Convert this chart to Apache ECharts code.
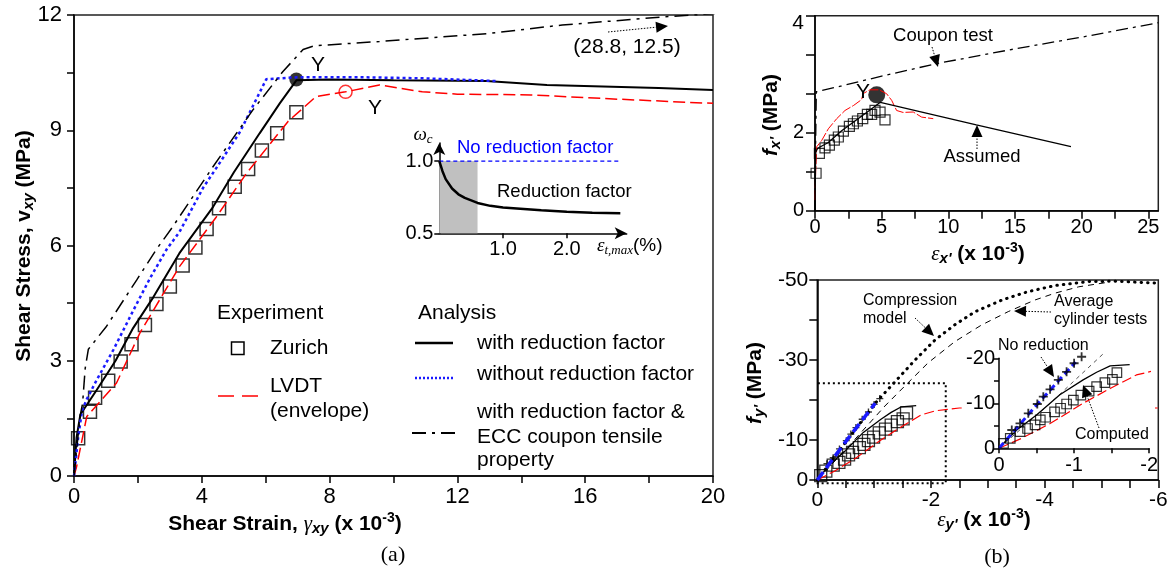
<!DOCTYPE html>
<html>
<head>
<meta charset="utf-8">
<script src="https://cdn.jsdelivr.net/npm/echarts@6/dist/echarts.min.js"></script>
<style>
  html, body { margin: 0; background: #fff; }
  #chart { width: 1172px; height: 576px; }
</style>
</head>
<body>
<div id="chart"></div>
<script>
// ---- (a) shear stress vs shear strain ----
const zurichA = [[0.13,0.98],[0.5,1.67],[0.66,2.04],[1.07,2.48],[1.46,2.98],[1.8,3.43],[2.22,3.93],[2.58,4.48],[3.0,4.93],[3.4,5.48],[3.8,5.95],[4.15,6.43],[4.54,6.97],[5.03,7.53],[5.45,7.99],[5.88,8.47],[6.36,8.92],[6.96,9.47]];
const lvdtA = [[0,0],[0.08,0.24],[0.4,1.55],[1.33,2.42],[2.06,3.72],[3.3,5.45],[4.46,6.75],[5.4,7.88],[6.7,9.23],[7.58,9.88],[8.5,10.0],[9.56,10.18],[10.9,10.0],[12,9.94],[14.3,9.92],[17,9.81],[19.7,9.71],[20,9.7]];
const withRfA = [[0,0],[0.08,1.0],[0.2,1.6],[0.71,2.24],[1.3,3.0],[1.85,3.85],[2.48,4.65],[3.3,5.8],[4.35,7.0],[5.0,7.9],[5.81,8.92],[6.44,9.7],[6.96,10.3],[8,10.32],[10,10.3],[12.9,10.28],[14.8,10.18],[18.3,10.1],[20,10.05]];
const noRfA = [[0,0],[0.13,1.0],[0.25,1.7],[0.4,2.0],[0.71,2.5],[1.23,3.28],[1.85,4.3],[2.38,5.15],[2.9,5.9],[3.3,6.35],[4.04,7.5],[4.56,8.15],[5.19,8.95],[6.02,10.33],[7,10.38],[9,10.38],[11,10.35],[13.25,10.28]];
const couponA = [[0,0],[0.12,1.0],[0.2,1.6],[0.27,1.9],[0.35,2.8],[0.45,3.3],[1.02,3.9],[1.96,5.1],[2.58,5.9],[3.1,6.5],[4.35,8.05],[5.6,9.53],[6.54,10.53],[7.17,11.1],[7.53,11.2],[9.56,11.31],[13.0,11.52],[15.28,11.74],[18.6,11.96],[28.8,12.5]];
const yieldA = [[6.96,10.32]];
const yieldLvdtA = [[8.5,10.0]];

// (a) inset: reduction factor
const rfCurve = [[0,1.0],[0.05,0.93],[0.1,0.875],[0.2,0.81],[0.3,0.77],[0.4,0.745],[0.6,0.71],[0.8,0.69],[1.0,0.678],[1.27,0.67],[1.6,0.66],[2.0,0.65],[2.4,0.643],[2.84,0.638]];
const noRfLine = [[0,1.0],[2.84,1.0]];
const shadedRange = [0, 0.6];

// ---- (b) top: f_x' vs eps_x' ----
const couponB = [[0,0],[0.04,1.5],[0.1,3.05],[2,3.2],[5,3.45],[9.1,3.77],[15,4.15],[20,4.45],[25.75,4.82]];
const zurichB = [[0.08,0.96],[0.33,1.47],[0.75,1.61],[1.08,1.68],[1.45,1.81],[1.75,1.89],[2.13,2.04],[2.58,2.16],[2.88,2.23],[3.18,2.3],[3.58,2.36],[3.93,2.47],[4.25,2.47],[4.5,2.57],[4.88,2.53],[5.25,2.33]];
const lvdtB = [[0,0.27],[0.05,1.0],[0.13,1.64],[0.5,1.8],[1.0,2.1],[1.63,2.36],[2.25,2.57],[2.9,2.7],[3.5,2.85],[3.6,3.0],[4.12,3.1],[4.8,3.1],[5.37,3.0],[5.75,2.83],[6.12,2.57],[6.6,2.52],[7.37,2.53],[8.0,2.4],[8.87,2.36]];
const assumedB = [[0,0],[0.05,1.5],[0.2,1.6],[1,1.75],[2,2.05],[3,2.3],[4,2.55],[4.9,2.78],[12.1,2.2],[19.2,1.64]];
const yieldB = [[4.63,2.97]];

// ---- (b) bottom: f_y' vs eps_y' ----
const compModel = [[0,0],[-0.5,-9.5],[-1.05,-19.7],[-1.37,-24.6],[-1.72,-30],[-2.07,-35],[-2.42,-38.8],[-2.78,-42.1],[-3.25,-45],[-3.71,-47.1],[-4.18,-48.6],[-4.77,-49.6],[-5.24,-49.7],[-6,-49.2]];
const avgCyl = [[0,0],[-0.6,-9.2],[-1.19,-18.5],[-1.54,-23.5],[-1.95,-29.3],[-2.42,-34.6],[-2.89,-38.75],[-3.36,-42.1],[-3.83,-45],[-4.18,-46.7],[-4.6,-48.3],[-5.1,-49.4]];
const noRedB = [[0,0],[-0.5,-9.6],[-1.02,-19.2]];
const noRedMarks = [[-0.17,-4.07],[-0.28,-5.55],[-0.39,-7.78],[-0.51,-9.84],[-0.59,-11.47],[-0.68,-13.1],[-0.79,-15.2],[-0.9,-17.0],[-1.0,-18.9],[-1.1,-20.35]];
const computedB = [[0,0],[-0.1,-1.8],[-0.24,-4.1],[-0.5,-7.4],[-0.81,-11.9],[-1.12,-15.2],[-1.3,-16.9],[-1.48,-18.3],[-1.74,-18.6]];
const zurichC = [[-0.06,-1.1],[-0.15,-2.2],[-0.28,-3.7],[-0.38,-4.4],[-0.48,-5.2],[-0.55,-6.3],[-0.62,-6.9],[-0.74,-8.1],[-0.82,-8.9],[-0.9,-9.85],[-0.99,-10.7],[-1.09,-11.8],[-1.2,-12.7],[-1.3,-13.7],[-1.41,-14.6],[-1.51,-15.3],[-1.57,-16.8]];
const lvdtC = [[0,0],[-0.3,-2.2],[-0.68,-5.5],[-1.12,-10],[-1.48,-13.3],[-1.83,-16.3],[-2.08,-17.3],[-2.5,-18],[-6,-18]];
const elasticInset = [[0,0],[-0.7,-10.3],[-1.42,-21.5]];
const zoomBox = [[0.1,0.8],[-2.26,0.8],[-2.26,-24.2],[0.1,-24.2],[0.1,0.8]];

const FF = "'Liberation Sans', Arial, sans-serif";
const TF = "'Liberation Serif', 'Times New Roman', serif";

function line(grid, data, color, width, type, extra) {
    return Object.assign({
        type: 'line', xAxisIndex: grid, yAxisIndex: grid, data: data,
        symbol: 'none', silent: true, animation: false,
        lineStyle: { color: color, width: width, type: type }
    }, extra || {});
}
function squares(grid, data, size, bw, extra) {
    return Object.assign({
        type: 'scatter', xAxisIndex: grid, yAxisIndex: grid, data: data,
        symbol: 'rect', symbolSize: size, silent: true, animation: false,
        itemStyle: { color: 'rgba(0,0,0,0)', borderColor: '#000', borderWidth: bw }
    }, extra || {});
}
const plusPath = 'path://M4,0h2v10h-2zM0,4h10v2h-10z';

function xax(grid, o) {
    return Object.assign({
        gridIndex: grid, type: 'value',
        axisLine: { show: true, onZero: false, lineStyle: { color: '#000', width: 1.5 } },
        axisTick: { show: true, length: 7, lineStyle: { color: '#000', width: 1.5 } },
        splitLine: { show: false }
    }, o);
}
function lab(size, margin, values, fmt) {
    const l = { fontSize: size, color: '#000', fontFamily: FF, margin: margin, customValues: values };
    if (fmt) l.formatter = fmt;
    return l;
}
function tick(len, values) {
    const t = { show: true, length: len, lineStyle: { color: '#000', width: 1.5 } };
    if (values) t.customValues = values;
    return t;
}
const arrowLine = { show: true, onZero: false, symbol: ['none', 'arrow'], symbolSize: [9, 12], lineStyle: { color: '#000', width: 1.5 } };

// annotation helpers
function txt(x, y, text, size, o) {
    return {
        type: 'text', x: x, y: y, z: 30, rotation: (o && o.rot) || 0,
        style: Object.assign({ text: text, fontSize: size, fontFamily: FF, fill: '#000', align: 'left', verticalAlign: 'middle' }, (o && o.style) || {})
    };
}
function arrow(x1, y1, x2, y2) {
    const dx = x2 - x1, dy = y2 - y1, L = Math.hypot(dx, dy), ux = dx / L, uy = dy / L;
    const hl = 12, hw = 5.5;
    const bx = x2 - ux * hl, by = y2 - uy * hl;
    return [
        { type: 'line', z: 30, shape: { x1: x1, y1: y1, x2: bx, y2: by }, style: { stroke: '#000', lineWidth: 1, lineDash: [1.5, 1.5] } },
        { type: 'polygon', z: 30, shape: { points: [[x2, y2], [bx - uy * hw, by + ux * hw], [bx + uy * hw, by - ux * hw]] }, style: { fill: '#000' } }
    ];
}
const richAx = {
    b: { fontSize: 21, fontWeight: 'bold', fontFamily: FF },
    bi: { fontSize: 21, fontWeight: 'bold', fontStyle: 'italic', fontFamily: FF },
    gi: { fontSize: 21, fontStyle: 'italic', fontFamily: TF },
    sub: { fontSize: 15, fontWeight: 'bold', fontStyle: 'italic', fontFamily: FF, padding: [10, 0, 0, 0] },
    sup: { fontSize: 14, fontWeight: 'bold', fontFamily: FF, padding: [0, 0, 11, 0] }
};
const richIn = {
    i: { fontSize: 19, fontStyle: 'italic', fontFamily: TF },
    s: { fontSize: 13, fontStyle: 'italic', fontFamily: TF, padding: [9, 0, 0, 0] },
    n: { fontSize: 19, fontFamily: FF }
};

const graphics = [
    // inset (b) white background
    { type: 'rect', z: 10, shape: { x: 963, y: 348, width: 192, height: 130 }, style: { fill: '#fff' } },

    // axis titles
    txt(24, 246, "{b|Shear Stress, }{b|v}{sub|xy}{b| (MPa)}", 21, { rot: Math.PI / 2, style: { align: 'center', rich: richAx } }),
    txt(285, 524, "{b|Shear Strain, }{gi|γ}{sub|xy}{b| (x 10}{sup|-3}{b|)}", 21, { style: { align: 'center', rich: richAx } }),
    txt(771, 115, "{bi|f}{sub|x'}{b| (MPa)}", 21, { rot: Math.PI / 2, style: { align: 'center', rich: richAx } }),
    txt(978, 254, "{gi|ε}{sub|x'}{b| (x 10}{sup|-3}{b|)}", 21, { style: { align: 'center', rich: richAx } }),
    txt(755, 383, "{bi|f}{sub|y'}{b| (MPa)}", 21, { rot: Math.PI / 2, style: { align: 'center', rich: richAx } }),
    txt(984, 520, "{gi|ε}{sub|y'}{b| (x 10}{sup|-3}{b|)}", 21, { style: { align: 'center', rich: richAx } }),
    txt(393, 555, "(a)", 22, { style: { align: 'center', fontFamily: TF } }),
    txt(997, 557, "(b)", 22, { style: { align: 'center', fontFamily: TF } }),

    // (a) annotations
    txt(318, 65, "Y", 21, { style: { align: 'center' } }),
    txt(375, 108, "Y", 21, { style: { align: 'center' } }),
    txt(627, 47, "(28.8, 12.5)", 21, { style: { align: 'center' } }),
    ...arrow(608, 32, 668, 26),

    // (a) legend
    txt(217, 313, "Experiment", 21),
    { type: 'rect', z: 30, shape: { x: 231.5, y: 342, width: 12.5, height: 12.5 }, style: { fill: 'none', stroke: '#000', lineWidth: 1.5 } },
    txt(270, 348, "Zurich", 21),
    { type: 'line', z: 30, shape: { x1: 218, y1: 396, x2: 258, y2: 396 }, style: { stroke: '#ff0000', lineWidth: 1.5, lineDash: [16, 8] } },
    txt(270, 386, "LVDT", 21),
    txt(270, 411, "(envelope)", 21),
    txt(418, 313, "Analysis", 21),
    { type: 'line', z: 30, shape: { x1: 415, y1: 343, x2: 453, y2: 343 }, style: { stroke: '#000', lineWidth: 2.5 } },
    txt(477, 343, "with reduction factor", 21),
    { type: 'line', z: 30, shape: { x1: 415, y1: 378, x2: 453, y2: 378 }, style: { stroke: '#1a1aff', lineWidth: 2.5, lineDash: [2, 2] } },
    txt(477, 374, "without reduction factor", 21),
    txt(477, 412, "with reduction factor &", 21),
    { type: 'line', z: 30, shape: { x1: 412, y1: 433, x2: 457, y2: 433 }, style: { stroke: '#000', lineWidth: 2, lineDash: [14, 6, 3, 6] } },
    txt(477, 437, "ECC coupon tensile", 21),
    txt(477, 460, "property", 21),

    // (a) inset texts
    txt(423, 135, "{i|ω}{s|c}", 19, { style: { align: 'center', rich: richIn } }),
    txt(457, 148, "No reduction factor", 18.5, { style: { fill: '#0000ff' } }),
    txt(497, 192, "Reduction factor", 18.5),
    txt(597, 246, "{i|ε}{s|t,max}{n|(%)}", 19, { style: { rich: richIn } }),

    // (b) top annotations
    txt(943, 36, "Coupon test", 18.5, { style: { align: 'center' } }),
    ...arrow(932, 47, 938, 67),
    txt(863, 92, "Y", 21, { style: { align: 'center' } }),
    txt(982, 157, "Assumed", 18.5, { style: { align: 'center' } }),
    ...arrow(977, 149, 977, 125),

    // (b) bottom annotations
    txt(863, 301, "Compression", 16),
    txt(863, 319, "model", 16),
    ...arrow(915, 318, 934, 336),
    txt(1054, 302, "Average", 16),
    txt(1054, 320, "cylinder tests", 16),
    ...arrow(1051, 312, 1014, 311),
    txt(998, 346, "No reduction", 16),
    ...arrow(1041, 357, 1054, 377),
    txt(1075, 435, "Computed", 16),
    ...arrow(1099, 428, 1083, 385)
];

const option = {
    animation: false,
    backgroundColor: '#fff',
    textStyle: { fontFamily: FF },
    grid: [
        { left: 74, top: 15, width: 639, height: 461, show: true, borderColor: '#222', borderWidth: 1.5 },
        { left: 439.3, top: 143, width: 187.4, height: 90.3 },
        { left: 815, top: 15.7, width: 343.3, height: 195, show: true, borderColor: '#222', borderWidth: 1.5 },
        { left: 817.3, top: 280, width: 341, height: 200, show: true, borderColor: '#222', borderWidth: 1.5 },
        { left: 999, top: 358.3, width: 150.2, height: 90 }
    ],
    xAxis: [
        xax(0, { min: 0, max: 20, interval: 2, axisTick: tick(7), axisLabel: lab(22, 10, [0, 4, 8, 12, 16, 20]) }),
        xax(1, { min: 0, max: 2.94, axisLine: arrowLine, axisTick: tick(5, [1, 2]), axisLabel: lab(20, 6, [1, 2], v => v.toFixed(1)) }),
        xax(2, { min: 0, max: 25.75, axisTick: tick(8, [0, 2.5, 5, 7.5, 10, 12.5, 15, 17.5, 20, 22.5, 25]), axisLabel: lab(20, 7, [0, 5, 10, 15, 20, 25]) }),
        xax(3, { inverse: true, min: -6, max: 0, interval: 0.5, axisTick: tick(8), axisLabel: lab(21, 10, [0, -2, -4, -6], v => v === 0 ? '0' : String(v)) }),
        xax(4, { inverse: true, min: -2, max: 0, interval: 0.5, z: 20, axisTick: tick(5), axisLabel: lab(20, 7, [0, -1, -2], v => v === 0 ? '0' : String(v)) })
    ],
    yAxis: [
        xax(0, { min: 0, max: 12, interval: 1.5, axisTick: tick(7), axisLabel: lab(22, 12, [0, 3, 6, 9, 12]) }),
        xax(1, { min: 0.5, max: 1.125, axisLine: arrowLine, axisTick: tick(5, [0.5, 1]), axisLabel: lab(20, 6, [0.5, 1], v => v.toFixed(1)) }),
        xax(2, { min: 0, max: 5, interval: 1, axisTick: tick(9),
            axisLabel: Object.assign(lab(20, 11, [0, 2, 5], v => v === 5 ? '{t|4}' : String(v)), { rich: { t: { fontSize: 21, fontFamily: FF, padding: [16, 0, 0, 0] } } }) }),
        xax(3, { inverse: true, min: -50, max: 0, interval: 10, axisTick: tick(8), axisLabel: lab(21, 9, [0, -10, -30, -50], v => v === 0 ? '0' : String(v)) }),
        xax(4, { inverse: true, min: -20, max: 0, interval: 5, z: 20, axisTick: tick(5), axisLabel: lab(20, 4, [0, -10, -20], v => v === 0 ? '0' : String(v)) })
    ],
    series: [
        // (a)
        line(0, lvdtA, '#ff0000', 1.5, [12, 5]),
        line(0, withRfA, '#000', 2, 'solid'),
        line(0, noRfA, '#1a1aff', 2.5, [3, 3]),
        line(0, couponA, '#000', 1.5, [14, 6, 3, 6]),
        squares(0, zurichA, 13, 1.5),
        { type: 'scatter', xAxisIndex: 0, yAxisIndex: 0, data: yieldA, symbol: 'circle', symbolSize: 14, itemStyle: { color: '#000' }, silent: true },
        { type: 'scatter', xAxisIndex: 0, yAxisIndex: 0, data: yieldLvdtA, symbol: 'circle', symbolSize: 13, itemStyle: { color: 'rgba(0,0,0,0)', borderColor: '#ff0000', borderWidth: 1.5 }, silent: true },
        // (a) inset
        line(1, noRfLine, '#0000ff', 1.2, [4, 3], { z: 1, markArea: { silent: true, itemStyle: { color: '#c0c0c0' },
            data: [[{ coord: [shadedRange[0], 0.5] }, { coord: [shadedRange[1], 1.0] }]] } }),
        line(1, rfCurve, '#000', 2.5, 'solid', { z: 3 }),
        // (b) top
        line(2, couponB, '#000', 1.3, [12, 5, 3, 5]),
        line(2, lvdtB, '#ff0000', 1, [10, 2]),
        line(2, assumedB, '#000', 1.3, 'solid'),
        squares(2, zurichB, 10, 1.2),
        { type: 'scatter', xAxisIndex: 2, yAxisIndex: 2, data: yieldB, symbol: 'circle', symbolSize: 17, itemStyle: { color: '#000' }, silent: true },
        // (b) bottom
        line(3, avgCyl, '#000', 1, [6, 5]),
        line(3, compModel, '#000', 3.5, [0.5, 5.5], { lineStyle: { color: '#000', width: 3, type: [0.5, 6], cap: 'round' } }),
        line(3, lvdtC, '#ff0000', 1.2, [10, 4]),
        line(3, computedB, '#000', 1.3, 'solid'),
        line(3, noRedB, '#1a1aff', 3.5, [10, 5]),
        { type: 'scatter', xAxisIndex: 3, yAxisIndex: 3, data: noRedMarks, symbol: plusPath, symbolSize: 7, itemStyle: { color: '#000' }, silent: true },
        squares(3, zurichC, 12, 1.3),
        line(3, zoomBox, '#000', 2, [2, 3], { clip: false }),
        // (b) inset
        line(4, elasticInset, '#555', 1, [4, 4], { clip: false, z: 20 }),
        line(4, lvdtC.filter(p => p[0] >= -2.1), '#ff0000', 1.2, [10, 4], { clip: false, z: 20 }),
        line(4, computedB, '#000', 1.3, 'solid', { clip: false, z: 20 }),
        line(4, noRedB, '#1a1aff', 3, [7, 4], { clip: false, z: 20 }),
        { type: 'scatter', xAxisIndex: 4, yAxisIndex: 4, data: noRedMarks, symbol: plusPath, symbolSize: 9, itemStyle: { color: '#000' }, silent: true, clip: false, z: 21 },
        squares(4, zurichC, 9.5, 1.2, { clip: false, z: 21 })
    ],
    graphic: graphics
};

const chart = echarts.init(document.getElementById('chart'), null, { renderer: 'canvas' });
chart.setOption(option);
</script>
</body>
</html>
